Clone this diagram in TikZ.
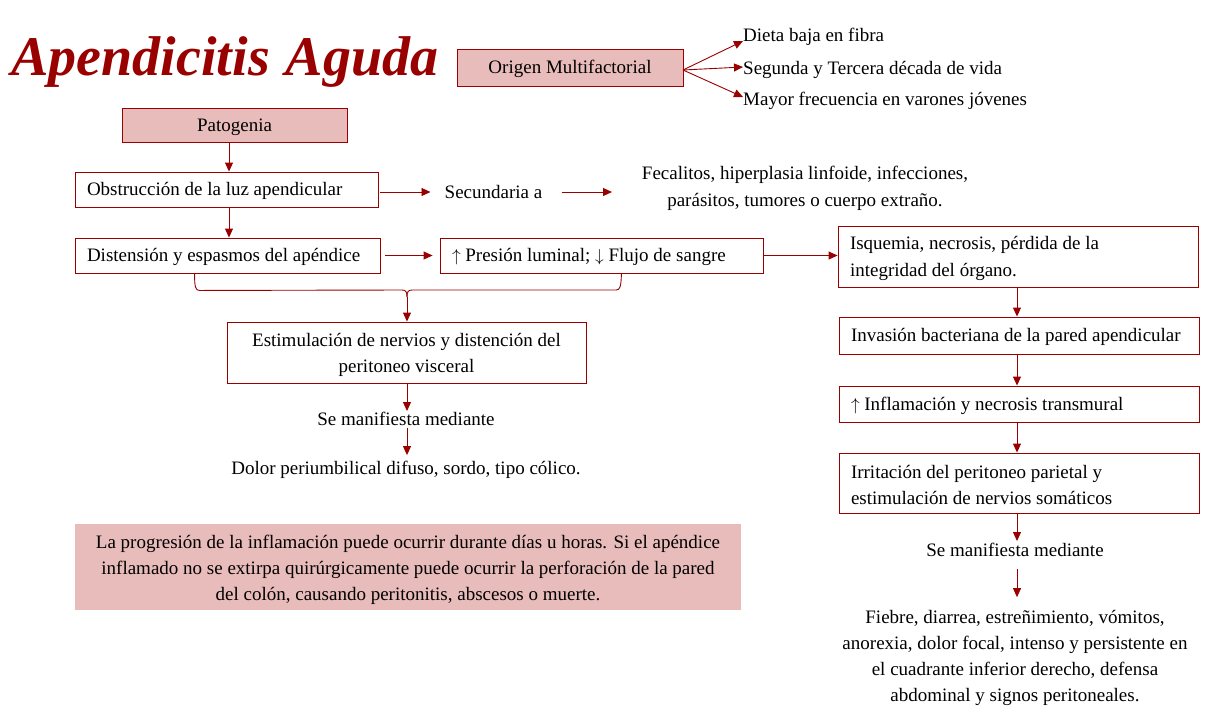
\documentclass[tikz,border=0pt]{standalone}
\usepackage{fontspec}
\setmainfont{Liberation Serif}
\usetikzlibrary{arrows.meta}
\definecolor{dred}{HTML}{990000}
\definecolor{pinkf}{HTML}{E8BCBA}
\newcommand\li{\hspace*{12pt}}
\newcommand\tup{\rule{0pt}{17pt}}
\begin{document}
\begin{tikzpicture}[x=1pt,y=-1pt,
  base/.style={font=\fontsize{19}{26}\selectfont},
  box/.style={base, draw=dred, line width=0.9pt, inner sep=0pt, anchor=center},
  pinkbox/.style={box, fill=pinkf},
  lbox/.style={box, align=flush left, inner xsep=0pt, text width=#1, minimum width=#1},
  txt/.style={base, inner sep=0pt},
  arr/.style={draw=dred, line width=0.9pt, -{Triangle[length=9pt,width=8pt]}},
  bracel/.style={draw=dred, line width=0.9pt}]
\useasboundingbox (0,0) rectangle (1222,716);

% title
\node[text=dred, inner sep=0pt, font=\fontsize{56}{56}\selectfont\bfseries\itshape] (title) at (225,62) {Apendicitis\hspace{16pt}Aguda};

% origen
\node[pinkbox, minimum width=226pt, minimum height=37pt] (orig) at (570,67.5) {\tup Origen Multifactorial};
\coordinate (oo) at (683,70);
\node[txt, anchor=west, yshift=-2pt] (o1) at (743,35) {Dieta baja en fibra};
\node[txt, anchor=west, yshift=-2pt] (o2) at (743,68) {Segunda y Tercera década de vida};
\node[txt, anchor=west, yshift=-2pt] (o3) at (743,99) {Mayor frecuencia en varones jóvenes};
\draw[arr] (oo) -- ([yshift=-4pt]o1.west);
\draw[arr] (oo) -- ([yshift=3pt]o2.west);
\draw[arr] (oo) -- ([yshift=4pt]o3.west);

% patogenia column
\node[pinkbox, minimum width=225pt, minimum height=34pt] (pat) at (234.5,125) {\tup Patogenia};
\coordinate (colA) at (229,0);
\node[lbox=303pt, minimum height=35pt] (obs) at (226.5,189.5) {\tup\li Obstrucción de la luz apendicular};
\node[lbox=305pt, minimum height=35pt] (dist) at (227.5,255.5) {\tup\li Distensión y espasmos del apéndice};
\draw[arr] (pat.south -| colA) -- (obs.north -| colA);
\draw[arr] (obs.south -| colA) -- (dist.north -| colA);

% secundaria
\node[txt, inner xsep=14pt] (sec) at (493.5,192) {Secundaria a};
\draw[arr] ([xshift=2pt]obs.east |- sec) -- (sec.west);
\coordinate (fe) at (612,192);
\draw[arr] ([xshift=5pt]sec.east) -- (fe);
\node[txt, align=center, font=\fontsize{19}{27}\selectfont, yshift=-2pt] (fec) at (805,186.5) {Fecalitos, hiperplasia linfoide, infecciones,\\parásitos, tumores o cuerpo extraño.};

% presion
\node[lbox=323pt, minimum height=35pt] (pres) at (601.5,255.5) {\tup\li$\uparrow$ Presión luminal; $\downarrow$ Flujo de sangre};
\draw[arr] ([xshift=5pt]dist.east) -- ([xshift=-7pt]pres.west);

% isquemia column
\node[lbox=360pt, minimum height=61pt, font=\fontsize{19}{27}\selectfont] (isq) at (1018,256.5) {\tup\li Isquemia, necrosis, pérdida de la\\\li integridad del órgano.};
\draw[arr] (pres.east) -- (pres.east -| isq.west);
\coordinate (colB) at (1017,0);
\node[lbox=360pt, minimum height=37pt] (inv) at (1019,335.5) {\tup\li Invasión bacteriana de la pared apendicular};
\node[lbox=360pt, minimum height=36pt] (infl) at (1019,404) {\tup\li$\uparrow$ Inflamación y necrosis transmural};
\node[lbox=360pt, minimum height=60pt] (irr) at (1019,483) {\tup\li Irritación del peritoneo parietal y\\\li estimulación de nervios somáticos};
\draw[arr] (isq.south -| colB) -- (inv.north -| colB);
\draw[arr] (inv.south -| colB) -- (infl.north -| colB);
\draw[arr] (infl.south -| colB) -- (irr.north -| colB);
\node[txt] (sm2) at (1015,550) {Se manifiesta mediante};
\draw[arr] (irr.south -| colB) -- ([yshift=2pt]sm2.north -| colB);
\node[txt, align=center, yshift=-2pt] (fie) at (1015,656) {Fiebre, diarrea, estreñimiento, vómitos,\\anorexia, dolor focal, intenso y persistente en\\el cuadrante inferior derecho, defensa\\abdominal y signos peritoneales.};
\draw[arr] ([yshift=-12pt]sm2.south -| colB) -- ([yshift=13pt]fie.north -| colB);

% brace and estimulacion
\node[box, align=center, minimum width=359pt, minimum height=61pt] (est) at (406.5,352.5) {\rule{0pt}{19pt}Estimulación de nervios y distención del\\peritoneo visceral};
\coordinate (bt) at (407,297);
\draw[bracel] ([xshift=120pt]dist.south west) .. controls +(0,14) and +(-4,0) .. ++(5,17) -- (402,290) .. controls (406,290) and (407,292) .. (bt);
\draw[bracel] (bt) .. controls (407,292) and (408,290) .. (412,290) -- (616,290) .. controls (620,290) and (621,287) .. ([xshift=-142pt]pres.south east);
\draw[arr] (bt) -- (est.north -| bt);

\node[txt] (sm1) at (406,419) {Se manifiesta mediante};
\node[txt, yshift=-2pt] (dol) at (406,468) {Dolor periumbilical difuso, sordo, tipo cólico.};
\draw[arr] (est.south -| bt) -- ([yshift=1pt]sm1.north -| bt);
\draw[arr] ([yshift=-2pt]sm1.south -| bt) -- ([yshift=6pt]dol.north -| bt);

% note
\node[base, fill=pinkf, inner sep=0pt, align=center, minimum width=666pt, minimum height=86pt] (note) at (408,567) {\rule{0pt}{19pt}La progresión de la inflamación puede ocurrir durante días u horas. Si el apéndice\\inflamado no se extirpa quirúrgicamente puede ocurrir la perforación de la pared\\del colón, causando peritonitis, abscesos o muerte.};
\end{tikzpicture}
\end{document}
